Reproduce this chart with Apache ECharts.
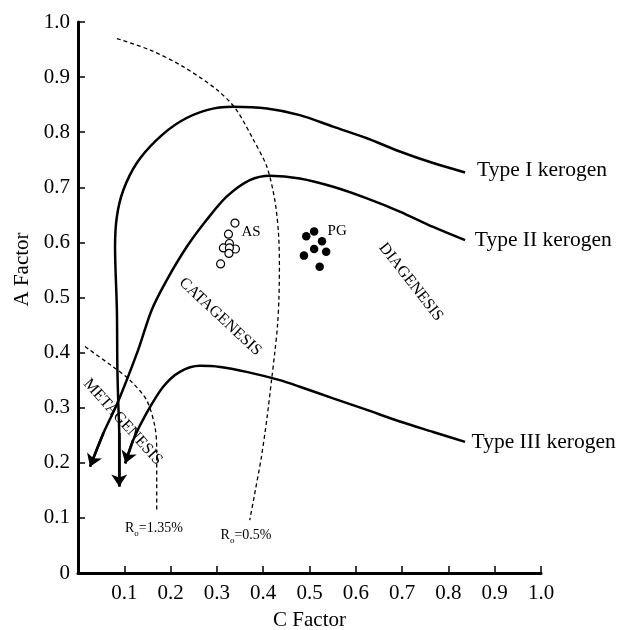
<!DOCTYPE html>
<html><head><meta charset="utf-8">
<script src="https://cdn.jsdelivr.net/npm/echarts@6/dist/echarts.min.js"></script>
<style>html,body{margin:0;padding:0;background:#fff}#c{width:631px;height:630px}</style>
</head><body><div id="c"></div><script>
// Tick labels
const xTickLabels = ['', '0.1', '0.2', '0.3', '0.4', '0.5', '0.6', '0.7', '0.8', '0.9', '1.0'];
const yTickLabels = ['0', '0.1', '0.2', '0.3', '0.4', '0.5', '0.6', '0.7', '0.8', '0.9', '1.0'];

// Kerogen evolution paths [C factor, A factor], from immature end to arrow tip
const typeI = [[0.836,0.727],[0.767,0.744],[0.695,0.765],[0.624,0.789],[0.551,0.810],[0.479,0.831],[0.408,0.843],[0.335,0.846],[0.278,0.840],[0.220,0.819],[0.170,0.786],[0.127,0.744],[0.098,0.695],[0.084,0.647],[0.080,0.592],[0.084,0.477],[0.085,0.374],[0.087,0.308],[0.089,0.254],[0.089,0.157]];
const typeII = [[0.836,0.604],[0.767,0.628],[0.695,0.656],[0.624,0.680],[0.551,0.701],[0.479,0.716],[0.415,0.721],[0.371,0.713],[0.321,0.683],[0.278,0.641],[0.235,0.592],[0.192,0.532],[0.159,0.477],[0.130,0.405],[0.085,0.308],[0.055,0.254],[0.026,0.193]];
const typeIII = [[0.836,0.238],[0.767,0.256],[0.695,0.275],[0.624,0.296],[0.551,0.317],[0.479,0.338],[0.436,0.350],[0.364,0.365],[0.307,0.374],[0.263,0.376],[0.220,0.365],[0.184,0.338],[0.148,0.290],[0.119,0.241],[0.102,0.199]];

// Vitrinite reflectance isolines
const ro05 = [[0.084,0.970],[0.156,0.949],[0.227,0.919],[0.300,0.877],[0.340,0.843],[0.379,0.786],[0.408,0.737],[0.425,0.677],[0.433,0.617],[0.435,0.556],[0.434,0.500],[0.431,0.450],[0.425,0.400],[0.418,0.350],[0.408,0.280],[0.396,0.210],[0.383,0.150],[0.371,0.096]];
const ro135 = [[0.015,0.411],[0.076,0.374],[0.112,0.350],[0.148,0.314],[0.166,0.266],[0.170,0.224],[0.170,0.163],[0.170,0.111]];

// Samples
const asSamples = [[0.339,0.635],[0.325,0.615],[0.327,0.598],[0.314,0.590],[0.340,0.588],[0.327,0.590],[0.326,0.580],[0.308,0.561]];
const pgSamples = [[0.510,0.620],[0.493,0.611],[0.527,0.602],[0.510,0.588],[0.536,0.583],[0.488,0.576],[0.522,0.556]];

// Annotations [x, y, text, rotate, kind]
const annotations = [
  [0.862, 0.731, 'Type I kerogen', 0, 'type'],
  [0.857, 0.604, 'Type II kerogen', 0, 'type'],
  [0.850, 0.238, 'Type III kerogen', 0, 'type'],
  [0.353, 0.619, 'AS', 0, 'sample'],
  [0.539, 0.621, 'PG', 0, 'sample'],
  [0.307, 0.465, 'CATAGENESIS', -43, 'zone'],
  [0.097, 0.274, 'METAGENESIS', -48, 'zone'],
  [0.719, 0.528, 'DIAGENESIS', -52, 'zone'],
  [0.164, 0.081, '{r|R}{s|o}{r|=1.35%}', 0, 'ro'],
  [0.363, 0.068, '{r|R}{s|o}{r|=0.5%}', 0, 'ro']
];

const FONT = '"Liberation Serif", "DejaVu Serif", serif';
const chart = echarts.init(document.getElementById('c'), null, {renderer: 'canvas'});

function curve(name, data) {
  return {
    name, type: 'line', data, showSymbol: false, symbol: 'none', smooth: 0.3,
    lineStyle: {color: '#000', width: 2.5}, z: 3, silent: true
  };
}
function arrow(data) {
  const n = data.length;
  return {
    type: 'lines', coordinateSystem: 'cartesian2d', silent: true, z: 4,
    symbol: ['none', 'arrow'], symbolSize: 12,
    lineStyle: {color: '#000', width: 2.5, opacity: 1},
    itemStyle: {color: '#000'},
    data: [{coords: [data[n - 2], data[n - 1]]}]
  };
}
function dashed(name, data) {
  return {
    name, type: 'line', data, showSymbol: false, symbol: 'none', smooth: 0.3,
    lineStyle: {color: '#000', width: 1.3, type: [4, 3]}, z: 2, silent: true
  };
}
const styles = {
  type: {fontSize: 21.5, align: 'left'},
  sample: {fontSize: 15, align: 'left'},
  zone: {fontSize: 16, align: 'center'},
  ro: {fontSize: 14, align: 'center'}
};

chart.setOption({
  animation: false,
  backgroundColor: '#fff',
  grid: {left: 78, right: 90, top: 22, bottom: 57, outerBoundsMode: 'none', containLabel: false},
  xAxis: {
    type: 'value', min: 0, max: 1, interval: 0.1,
    name: 'C Factor', nameLocation: 'middle', nameGap: 37,
    nameTextStyle: {color: '#000', fontFamily: FONT, fontSize: 21},
    axisLine: {lineStyle: {color: '#000', width: 3}},
    axisTick: {inside: true, length: 7, lineStyle: {color: '#000', width: 1.5}},
    axisLabel: {color: '#000', fontFamily: FONT, fontSize: 21, margin: 10,
      formatter: v => xTickLabels[Math.round(v * 10)]},
    splitLine: {show: false}
  },
  yAxis: {
    type: 'value', min: 0, max: 1, interval: 0.1,
    name: 'A Factor', nameLocation: 'middle', nameGap: 44,
    nameTextStyle: {color: '#000', fontFamily: FONT, fontSize: 21, padding: [0, 0, 0, 56]},
    axisLine: {lineStyle: {color: '#000', width: 3}},
    axisTick: {inside: true, length: 7, lineStyle: {color: '#000', width: 1.5}},
    axisLabel: {color: '#000', fontFamily: FONT, fontSize: 21, margin: 8,
      formatter: v => yTickLabels[Math.round(v * 10)]},
    splitLine: {show: false}
  },
  series: [
    curve('Type I', typeI), arrow(typeI),
    curve('Type II', typeII), arrow(typeII),
    curve('Type III', typeIII), arrow(typeIII),
    dashed('Ro 0.5', ro05), dashed('Ro 1.35', ro135),
    {
      name: 'AS', type: 'scatter', data: asSamples, symbol: 'circle', symbolSize: 8,
      itemStyle: {color: '#fff', borderColor: '#000', borderWidth: 1.2, opacity: 1}, z: 5, silent: true
    },
    {
      name: 'PG', type: 'scatter', data: pgSamples, symbol: 'circle', symbolSize: 8.5,
      itemStyle: {color: '#000', opacity: 1}, z: 5, silent: true
    },
    {
      type: 'scatter', symbolSize: 0, silent: true, z: 6,
      itemStyle: {opacity: 1},
      data: annotations.map(a => ({
        value: [a[0], a[1]],
        label: {
          show: true, position: 'inside', formatter: a[2], rotate: a[3],
          color: '#000', opacity: 1, fontFamily: FONT, verticalAlign: 'middle',
          fontSize: styles[a[4]].fontSize, align: styles[a[4]].align,
          rich: {
            r: {fontSize: 14, fontFamily: FONT, color: '#000'},
            s: {fontSize: 9, fontFamily: FONT, color: '#000', padding: [10, 0, 0, 0]}
          }
        }
      }))
    }
  ]
});
</script></body></html>
